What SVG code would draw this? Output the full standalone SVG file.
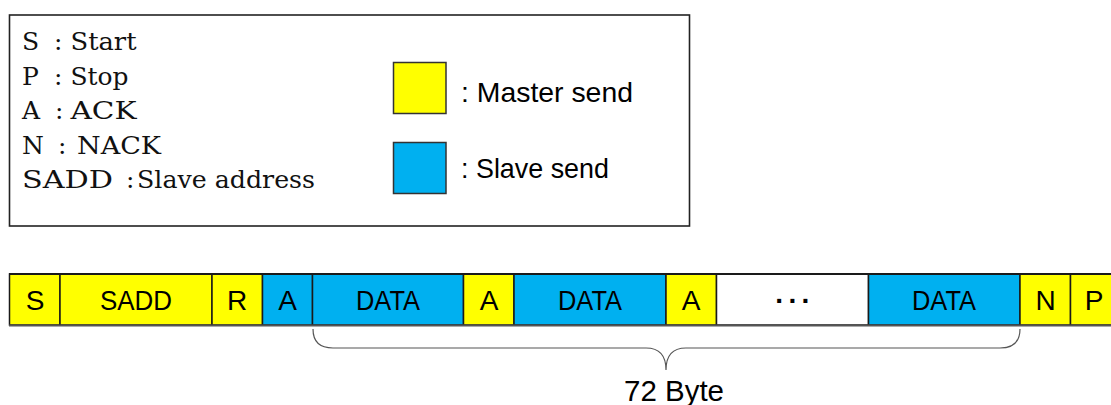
<svg xmlns="http://www.w3.org/2000/svg" width="1111" height="405" viewBox="0 0 1111 405">
<style>
.ser{font-family:"DejaVu Serif","Liberation Serif",serif;font-size:25px;fill:#111}
.sans{font-family:"Liberation Sans","Open Sans",sans-serif;fill:#000}
.cell{stroke:#1a1a1a;stroke-width:1.5}
.y{fill:#FFFF00}
.b{fill:#00B0F0}
.w{fill:#FFFFFF}
.ct{font-family:"Liberation Sans","Open Sans",sans-serif;font-size:28px;fill:#000;text-anchor:middle}
</style>
<rect width="1111" height="405" fill="#fff"/>
<g id="legend">
<rect x="9.5" y="15" width="680" height="211" fill="#fff" stroke="#222" stroke-width="1.6"/>
<text class="ser"><tspan x="22" y="50">S</tspan><tspan x="54" y="50">:</tspan><tspan x="70.5" y="50" textLength="66" lengthAdjust="spacingAndGlyphs">Start</tspan></text>
<text class="ser"><tspan x="22" y="84.5">P</tspan><tspan x="54" y="84.5">:</tspan><tspan x="70.5" y="84.5" textLength="58" lengthAdjust="spacingAndGlyphs">Stop</tspan></text>
<text class="ser"><tspan x="22" y="119">A</tspan><tspan x="55" y="119">:</tspan><tspan x="70.5" y="119" textLength="66" lengthAdjust="spacingAndGlyphs">ACK</tspan></text>
<text class="ser"><tspan x="22" y="153.5">N</tspan><tspan x="58" y="153.5">:</tspan><tspan x="77" y="153.5" textLength="84" lengthAdjust="spacingAndGlyphs">NACK</tspan></text>
<text class="ser"><tspan x="22" y="188" textLength="91" lengthAdjust="spacingAndGlyphs">SADD</tspan><tspan x="126" y="188">:</tspan><tspan x="137" y="188" textLength="178" lengthAdjust="spacingAndGlyphs">Slave address</tspan></text>
<rect x="393.5" y="62.5" width="52.5" height="51" class="y" stroke="#333" stroke-width="1.5"/>
<text class="sans" font-size="28" x="461" y="101.5" textLength="172" lengthAdjust="spacingAndGlyphs">: Master send</text>
<rect x="393.5" y="142.5" width="52.5" height="51" class="b" stroke="#333" stroke-width="1.5"/>
<text class="sans" font-size="28" x="461" y="178" textLength="148" lengthAdjust="spacingAndGlyphs">: Slave send</text>
</g>
<g id="frame">
<g id="c-s"><rect class="cell y" x="9.5" y="274" width="50.5" height="51"/><text class="ct" x="35" y="310">S</text></g>
<g id="c-sadd"><rect class="cell y" x="60" y="274" width="152" height="51"/><text class="ct" x="136" y="310" textLength="72" lengthAdjust="spacingAndGlyphs">SADD</text></g>
<g id="c-r"><rect class="cell y" x="212" y="274" width="50.5" height="51"/><text class="ct" x="237" y="310">R</text></g>
<g id="c-a1"><rect class="cell b" x="262.5" y="274" width="50" height="51"/><text class="ct" x="287.5" y="310">A</text></g>
<g id="c-d1"><rect class="cell b" x="312.5" y="274" width="151" height="51"/><text class="ct" x="388" y="310" textLength="64" lengthAdjust="spacingAndGlyphs">DATA</text></g>
<g id="c-a2"><rect class="cell y" x="463.5" y="274" width="50.5" height="51"/><text class="ct" x="489" y="310">A</text></g>
<g id="c-d2"><rect class="cell b" x="514" y="274" width="152" height="51"/><text class="ct" x="590" y="310" textLength="64" lengthAdjust="spacingAndGlyphs">DATA</text></g>
<g id="c-a3"><rect class="cell y" x="666" y="274" width="50.5" height="51"/><text class="ct" x="691" y="310">A</text></g>
<g id="c-dots"><rect class="cell w" x="716.5" y="274" width="152" height="51"/><text class="ct" x="795" y="303" font-weight="bold" font-size="40" letter-spacing="5.4">...</text></g>
<g id="c-d3"><rect class="cell b" x="868.5" y="274" width="151.5" height="51"/><text class="ct" x="944" y="310" textLength="64" lengthAdjust="spacingAndGlyphs">DATA</text></g>
<g id="c-n"><rect class="cell y" x="1020" y="274" width="50.5" height="51"/><text class="ct" x="1045.5" y="310">N</text></g>
<g id="c-p"><rect class="cell y" x="1070.5" y="274" width="52" height="51"/><text class="ct" x="1094" y="310">P</text></g>
<line x1="9" y1="274" x2="1111" y2="274" stroke="#1a1a1a" stroke-width="2"/>
<line x1="9" y1="325.5" x2="1111" y2="325.5" stroke="#555" stroke-width="2"/>
</g>
<g id="connectors">
<path d="M313,329 Q313,348 333,348 L646,348 Q666,348 666,370 Q666,348 686,348 L1000,348 Q1020,348 1020,329" fill="none" stroke="#555" stroke-width="1.2"/>
</g>
<g id="label">
<text class="sans" font-size="29" x="624" y="401" textLength="100" lengthAdjust="spacingAndGlyphs">72 Byte</text>
</g>
</svg>
